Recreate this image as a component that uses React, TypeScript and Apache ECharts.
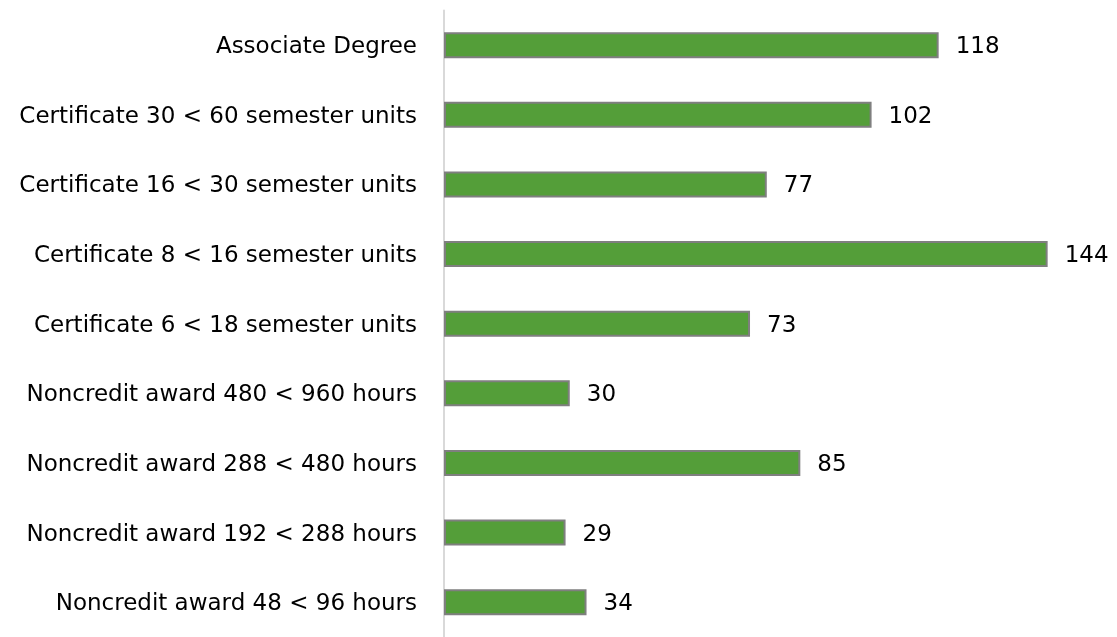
import React, { useEffect, useRef } from "react";
import * as echarts from "echarts";

const categories = [
  "Associate Degree",
  "Certificate 30 < 60 semester units",
  "Certificate 16 < 30 semester units",
  "Certificate 8 < 16 semester units",
  "Certificate 6 < 18 semester units",
  "Noncredit award 480 < 960 hours",
  "Noncredit award 288 < 480 hours",
  "Noncredit award 192 < 288 hours",
  "Noncredit award 48 < 96 hours",
];
const values = [118, 102, 77, 144, 73, 30, 85, 29, 34];

const FONT = "'DejaVu Sans', sans-serif";

export default function App() {
  const ref = useRef<HTMLDivElement>(null);
  useEffect(() => {
    if (!ref.current) return;
    const chart = echarts.init(ref.current, undefined, { renderer: "svg" });
    chart.setOption({
      animation: false,
      grid: { left: 444, right: 44.2, top: 10.4, bottom: -6.2, containLabel: false },
      xAxis: {
        type: "value",
        min: 0,
        max: 150,
        show: false,
      },
      yAxis: {
        type: "category",
        data: categories,
        inverse: true,
        offset: 2,
        axisLine: { show: true, lineStyle: { color: "#D9D9D9", width: 2 } },
        axisTick: { show: false },
        axisLabel: {
          margin: 25,
          color: "#000000",
          fontFamily: FONT,
          fontSize: 23,
        },
      },
      series: [
        {
          type: "bar",
          data: values,
          barWidth: 26,
          itemStyle: { color: "#549E39", borderColor: "#7F7F7F", borderWidth: 2 },
          label: {
            show: true,
            position: "right",
            distance: 17,
            color: "#000000",
            fontFamily: FONT,
            fontSize: 23,
          },
        },
      ],
    });
    return () => chart.dispose();
  }, []);
  return (
    <div
      ref={ref}
      style={{ position: "fixed", left: 0, top: 0, width: 1117, height: 637 }}
    />
  );
}
